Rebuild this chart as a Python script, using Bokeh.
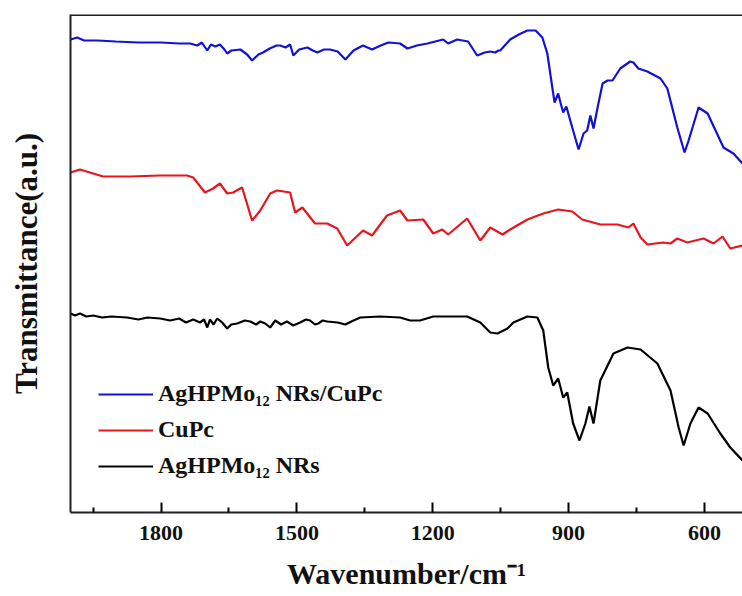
from bokeh.plotting import figure
from bokeh.models import Range1d, FixedTicker, Span, Legend, LegendItem
from bokeh.embed import file_html
from bokeh.resources import INLINE

# ---- data (wavenumber in cm^-1, transmittance in arbitrary offset units) ----
blue_wn = [2000, 1985, 1970, 1940, 1900, 1850, 1800, 1760, 1736, 1720, 1710, 1698, 1690, 1680,
           1670, 1660, 1654, 1645, 1625, 1610, 1599, 1585, 1575, 1560, 1545, 1537, 1525, 1515,
           1508, 1495, 1477, 1465, 1455, 1440, 1427, 1410, 1393, 1375, 1354, 1334, 1315, 1298,
           1272, 1256, 1235, 1212, 1177, 1166, 1146, 1122, 1102, 1085, 1073, 1062, 1055, 1051,
           1029, 1010, 991, 973, 958, 947, 936, 931, 923, 918, 912, 905, 892, 878, 867, 859,
           852, 845, 836, 825, 814, 803, 786, 764, 757, 746, 726, 697, 682, 660, 644, 635, 613,
           593, 558, 536, 516]
blue_t = [473, 475, 472, 472, 471, 470, 470, 469, 469, 467, 470, 462, 468, 466,
          468, 463, 459, 462, 463, 458, 452, 458, 460, 464, 467, 467, 465, 468,
          457, 463, 465, 462, 460, 463, 463, 461, 453, 462, 467, 463, 467, 470,
          469, 464, 467, 469, 473, 469, 473, 471, 457, 460, 461, 460, 462, 462,
          473, 478, 482, 482, 475, 459, 425, 410, 419, 410, 400, 406, 385, 363, 379, 382,
          397, 384, 405, 429, 432, 432, 444, 451, 450, 444, 441, 434, 424, 385, 360, 372, 405,
          399, 365, 359, 349]

red_wn = [2000, 1979, 1928, 1869, 1802, 1743, 1729, 1703, 1685, 1670, 1654, 1641, 1621, 1599,
          1581, 1559, 1544, 1515, 1504, 1488, 1460, 1433, 1411, 1389, 1354, 1334, 1301, 1272,
          1256, 1221, 1199, 1179, 1166, 1124, 1095, 1073, 1046, 1029, 991, 956, 923, 892, 870,
          830, 792, 768, 757, 741, 726, 691, 675, 660, 638, 602, 580, 560, 543, 516]
red_t = [340, 343, 336, 336, 337, 337, 335, 320, 324, 329, 319, 320, 325, 292,
         302, 319, 322, 320, 300, 305, 289, 289, 284, 267, 282, 277, 297, 302,
         292, 293, 279, 283, 278, 294, 272, 285, 278, 283, 293, 299, 303, 301, 293,
         288, 288, 285, 289, 275, 268, 270, 269, 274, 270, 274, 269, 276, 264, 267]

black_wn = [2000, 1990, 1979, 1965, 1950, 1930, 1910, 1875, 1850, 1830, 1802, 1780, 1760,
            1745, 1729, 1714, 1705, 1698, 1692, 1684, 1676, 1665, 1654, 1645, 1632, 1615,
            1603, 1590, 1581, 1570, 1559, 1548, 1535, 1522, 1508, 1493, 1480, 1471, 1460,
            1453, 1443, 1433, 1410, 1393, 1375, 1360, 1316, 1272, 1250, 1228, 1199, 1160,
            1124, 1095, 1073, 1057, 1035, 1022, 991, 969, 956, 945, 934, 923, 912, 903, 890,
            876, 863, 854, 845, 830, 801, 770, 741, 704, 675, 657, 646, 631, 613, 593, 565,
            543, 516]
black_t = [199, 197, 199, 196, 197, 195, 196, 195, 193, 195, 194, 192, 194,
           190, 193, 190, 193, 185, 193, 188, 194, 190, 184, 188, 189, 192,
           191, 188, 191, 189, 185, 192, 188, 191, 187, 190, 193, 192, 188,
           189, 192, 191, 190, 188, 192, 195, 196, 195, 192, 192, 196, 196,
           196, 190, 180, 179, 184, 190, 196, 195, 182, 145, 127, 134, 115, 120, 89,
           72, 89, 106, 89, 132, 159, 165, 163, 149, 122, 85, 67, 89, 105, 99, 79,
           65, 52]

x_ticks = [1800, 1500, 1200, 900, 600]
x_minor = [1950, 1650, 1350, 1050, 750]
labels = ["AgHPMo\u2081\u2082 NRs/CuPc", "CuPc", "AgHPMo\u2081\u2082 NRs"]
colors = ["#1212d6", "#e6161c", "#000000"]

FONT = "Liberation Serif"

p = figure(width=742, height=596, output_backend="svg", toolbar_location=None,
           x_range=Range1d(2000, 516), y_range=Range1d(0, 498),
           min_border_left=70, min_border_right=0, min_border_top=14, min_border_bottom=84)
p.outline_line_color = None
p.xgrid.visible = False
p.ygrid.visible = False
p.background_fill_color = "white"

r_blue = p.line(blue_wn, blue_t, line_color=colors[0], line_width=2.2)
r_red = p.line(red_wn, red_t, line_color=colors[1], line_width=2.2)
r_black = p.line(black_wn, black_t, line_color=colors[2], line_width=2.2)

# x axis
xa = p.xaxis[0]
xa.ticker = FixedTicker(ticks=x_ticks, minor_ticks=x_minor)
xa.axis_label = "Wavenumber/cm\u207b\u00b9"
xa.axis_label_text_font = FONT
xa.axis_label_text_font_style = "bold"
xa.axis_label_text_font_size = "30px"
xa.axis_label_text_color = "#111111"
xa.axis_label_standoff = 14
xa.major_label_text_font = FONT
xa.major_label_text_font_style = "bold"
xa.major_label_text_font_size = "22px"
xa.major_label_text_color = "#111111"
xa.major_label_standoff = 13
xa.major_tick_in = 10
xa.major_tick_out = 0
xa.minor_tick_in = 5
xa.minor_tick_out = 0
xa.axis_line_width = 2
xa.major_tick_line_width = 2
xa.minor_tick_line_width = 2
xa.axis_line_color = "#222222"

# y axis
ya = p.yaxis[0]
ya.ticker = FixedTicker(ticks=[])
ya.axis_label = "Transmittance(a.u.)"
ya.axis_label_text_font = FONT
ya.axis_label_text_font_style = "bold"
ya.axis_label_text_font_size = "31px"
ya.axis_label_text_color = "#111111"
ya.axis_label_standoff = 27
ya.major_tick_in = 0
ya.major_tick_out = 0
ya.minor_tick_in = 0
ya.minor_tick_out = 0
ya.axis_line_width = 2
ya.axis_line_color = "#222222"

# top frame line
p.add_layout(Span(location=498, dimension="width", line_color="#222222", line_width=3))

legend = Legend(items=[LegendItem(label=labels[0], renderers=[r_blue]),
                       LegendItem(label=labels[1], renderers=[r_red]),
                       LegendItem(label=labels[2], renderers=[r_black])],
                location=(28, 33))
legend.border_line_color = None
legend.background_fill_alpha = 0
legend.padding = 0
legend.margin = 0
legend.spacing = 9
legend.glyph_width = 55
legend.label_text_font = FONT
legend.label_text_font_style = "bold"
legend.label_text_font_size = "24px"
legend.label_text_color = "#111111"
legend.label_standoff = 5
p.add_layout(legend, "center")

open("out.html", "w").write(file_html(p, INLINE))
